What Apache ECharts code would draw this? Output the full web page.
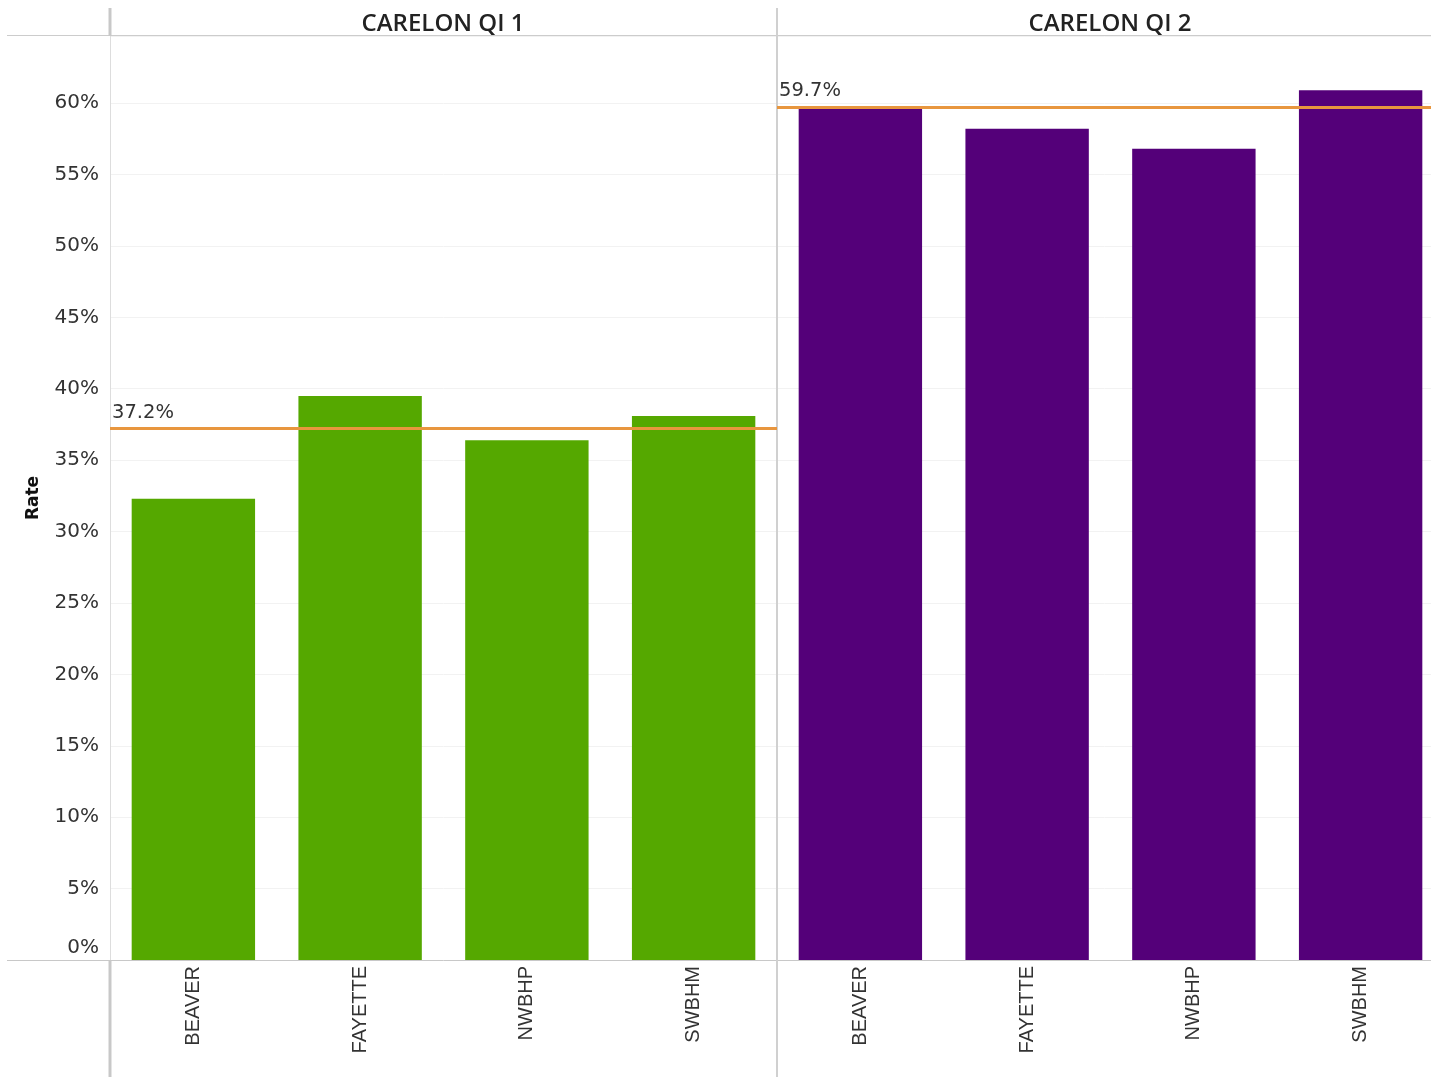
<!DOCTYPE html>
<html>
<head>
<meta charset="utf-8">
<script src="https://cdn.jsdelivr.net/npm/echarts@6/dist/echarts.min.js"></script>
<style>
html,body{margin:0;padding:0;background:#fff;}
#chart{width:1431px;height:1077px;}
</style>
</head>
<body>
<div id="chart"></div>
<script>
const categories = ['BEAVER', 'FAYETTE', 'NWBHP', 'SWBHM'];
const panelTitles = ['CARELON QI 1', 'CARELON QI 2'];
const qi1Values = [32.3, 39.5, 36.4, 38.1];
const qi2Values = [59.6, 58.2, 56.8, 60.9];
const referenceValues = [37.2, 59.7];
const yMin = 0, yMax = 64.7, yStep = 5;

const TICK_FONT = 'DejaVu Sans';
const CAT_FONT = 'Liberation Sans';
const HEAD_FONT = 'Open Sans';
const chart = echarts.init(document.getElementById('chart'));

function yAxisCfg(idx, showLabels) {
  return {
    type: 'value', gridIndex: idx, min: yMin, max: yMax, interval: yStep,
    name: showLabels ? 'Rate' : '', nameLocation: 'middle', nameGap: 68,
    nameTextStyle: {fontFamily: TICK_FONT, fontSize: 17, fontWeight: 'bold', color: '#111'},
    axisLine: {show: true, lineStyle: {color: idx === 0 ? '#dddddd' : '#d0d0d0', width: idx === 0 ? 1 : 2}},
    axisTick: {show: false},
    axisLabel: {
      show: showLabels, fontFamily: TICK_FONT, fontSize: 20, color: '#333', margin: 11,
      verticalAlignMinLabel: 'bottom',
      formatter: v => (Math.abs(v % yStep) < 1e-6 ? (v === 0 ? '{z|0%}' : v + '%') : ''),
      rich: {z: {fontFamily: TICK_FONT, fontSize: 20, color: '#333', padding: [0, 0, 2, 0]}}
    },
    splitLine: {show: true, lineStyle: {color: '#f2f2f2', width: 1}}
  };
}
function xAxisCfg(idx) {
  return {
    type: 'category', gridIndex: idx, data: categories,
    axisLine: {show: true, lineStyle: {color: '#c8c8c8', width: 1}},
    axisTick: {show: false},
    axisLabel: {rotate: 90, fontFamily: CAT_FONT, fontSize: 20, color: '#333', margin: 6, interval: 0}
  };
}
function barSeries(idx, values, color) {
  return {
    type: 'bar', xAxisIndex: idx, yAxisIndex: idx, data: values, barWidth: '74%',
    itemStyle: {color: color}, silent: true,
    markLine: {
      symbol: 'none', silent: true, animation: false,
      lineStyle: {color: '#E8963E', width: 3, type: 'solid'},
      label: {position: 'insideStartTop', distance: [2, 6], fontFamily: TICK_FONT, fontSize: 19.5, color: '#333',
        formatter: p => p.value.toFixed(1) + '%'},
      data: [{yAxis: referenceValues[idx]}]
    }
  };
}

const gline = (x1, y1, x2, y2, color, w) => ({type: 'line', silent: true, z: 100,
  shape: {x1, y1, x2, y2}, style: {stroke: color, lineWidth: w}});
const header = (text, cx) => ({type: 'text', x: cx, y: 24, silent: true,
  style: {text, fontFamily: HEAD_FONT, fontSize: 24, fontWeight: 600, fill: '#222',
    textAlign: 'center', textVerticalAlign: 'middle'}});

chart.setOption({
  animation: false,
  grid: [
    {left: 110, top: 36, width: 667, bottom: 117, outerBoundsMode: 'none'},
    {left: 777, top: 36, width: 667, bottom: 117, outerBoundsMode: 'none'}
  ],
  xAxis: [xAxisCfg(0), xAxisCfg(1)],
  yAxis: [yAxisCfg(0, true), yAxisCfg(1, false)],
  series: [barSeries(0, qi1Values, '#55A800'), barSeries(1, qi2Values, '#540079')],
  graphic: [
    header(panelTitles[0], 443),
    header(panelTitles[1], 1110),
    gline(7, 35.5, 1431, 35.5, '#cccccc', 1),
    gline(7, 960.5, 110, 960.5, '#c8c8c8', 1),
    gline(777, 960.5, 1431, 960.5, '#c8c8c8', 1),
    gline(110, 8, 110, 36, '#c8c8c8', 3),
    gline(110, 960, 110, 1077, '#c8c8c8', 3),
    gline(777, 8, 777, 36, '#d0d0d0', 2),
    gline(777, 960, 777, 1077, '#d0d0d0', 2)
  ]
});
</script>
</body>
</html>
